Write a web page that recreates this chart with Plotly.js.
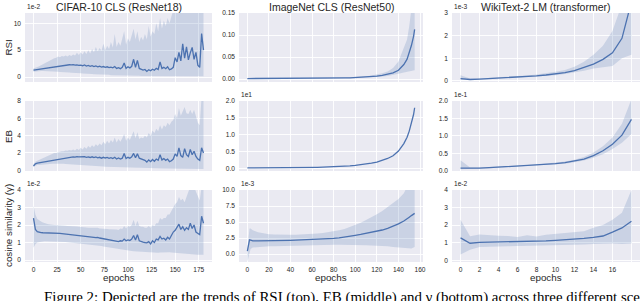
<!DOCTYPE html>
<html>
<head>
<meta charset="utf-8">
<script src="https://cdn.plot.ly/plotly-3.0.1.min.js"></script>
<style>html,body{margin:0;padding:0;background:#fff;}#chart{width:640px;height:301px;}</style>
</head>
<body>
<div id="chart"></div>
<script>
// ---------------- DATA ----------------
const colTitles = ['CIFAR-10 CLS (ResNet18)', 'ImageNet CLS (ResNet50)', 'WikiText-2 LM (transformer)'];
const rowTitles = ['RSI', 'EB', 'cosine similarity (\u03b3)'];
const xTitle = 'epochs';
const caption = 'Figure 2: Depicted are the trends of RSI (top), EB (middle) and \u03b3 (bottom) across three different scenarios.';
// scale (offset) labels, [row][col]
const scaleLabels = [['1e-2', '', '1e-3'], ['', '1e1', '1e-1'], ['1e-2', '1e-3', '1e-2']];

// CIFAR-10 (every 2nd epoch)
const epochsCifar = [0,2,4,6,8,10,12,14,16,18,20,22,24,26,28,30,32,34,36,38,40,42,44,46,48,50,52,54,56,58,60,62,64,66,68,70,72,74,76,78,80,82,84,86,88,90,92,94,96,98,100,102,104,106,108,110,112,114,116,118,120,122,124,126,128,130,132,134,136,138,140,142,144,146,148,150,152,154,156,158,160,162,164,166,168,170,172,174,176,178,180];
const rsiCifarMean = [1.30,1.35,1.40,1.45,1.50,1.55,1.62,1.68,1.75,1.82,1.88,1.95,2.00,2.05,2.10,2.15,2.20,2.22,2.25,2.28,2.25,2.30,2.20,2.25,2.15,2.20,2.10,2.25,2.05,2.15,2.00,2.10,1.95,2.05,1.90,2.00,1.85,1.95,1.80,1.90,1.75,1.85,1.70,1.95,1.60,1.75,1.55,1.80,2.60,1.60,1.90,1.70,2.00,3.30,1.80,3.10,1.60,1.50,1.30,1.40,1.05,1.35,1.15,1.45,1.25,1.60,1.40,2.80,1.60,1.80,1.55,1.90,1.35,1.50,1.80,3.60,2.80,4.60,3.00,6.20,3.50,5.60,3.20,4.50,5.50,3.30,4.60,2.20,1.80,8.10,5.00];
const rsiCifarHi = [1.6,1.7,1.8,2.0,2.2,2.4,2.6,2.8,3.0,3.2,3.4,3.5,3.6,3.8,3.7,3.9,3.8,4.0,3.8,4.1,3.9,4.2,4.0,4.5,4.1,4.6,4.2,4.8,4.3,5.0,4.4,5.2,4.6,5.6,4.8,5.4,4.9,6.2,5.0,5.8,5.2,6.5,5.5,8.0,5.6,6.5,5.8,7.0,8.5,6.0,7.2,6.5,8.0,9.0,7.0,8.5,6.5,7.5,6.8,8.0,7.0,9.5,7.5,8.5,8.0,10.0,8.5,11.0,9.0,10.5,9.5,11.0,10.0,11.5,12.5,13,13,13,13,13,13,13,13,13,13,13,13,13,13,13,13];
const rsiCifarLo = [1.0,1.05,1.1,1.1,1.1,1.1,1.1,1.1,1.1,1.1,1.05,1.05,1.0,1.0,0.95,0.95,0.9,0.9,0.85,0.85,0.8,0.8,0.75,0.75,0.7,0.7,0.65,0.65,0.6,0.6,0.55,0.55,0.5,0.5,0.5,0.45,0.45,0.45,0.4,0.4,0.4,0.35,0.35,0.35,0.3,0.3,0.3,0.3,0.3,0.3,0.3,0.25,0.25,0.25,0.25,0.25,0.25,0.2,0.2,0.2,0.2,0.2,0.2,0.2,0.2,0.2,0.2,0.2,0.2,0.2,0.2,0.2,0.2,0.2,0.2,0.15,0.15,0.15,0.15,0.15,0.15,0.15,0.15,0.15,0.15,0.15,0.15,0.15,0.15,0.15,0.15];
const ebCifarMean = [0.50,0.75,0.82,0.86,0.90,0.94,0.98,1.02,1.06,1.10,1.14,1.18,1.22,1.26,1.30,1.34,1.37,1.40,1.43,1.46,1.50,1.55,1.52,1.58,1.54,1.56,1.50,1.58,1.50,1.55,1.48,1.56,1.46,1.54,1.44,1.50,1.40,1.50,1.42,1.48,1.38,1.45,1.35,1.50,1.30,1.42,1.30,1.40,1.95,1.35,1.50,1.40,1.55,1.95,1.45,1.90,1.40,1.30,1.20,1.15,0.95,1.20,1.00,1.25,1.05,1.30,1.15,1.80,1.20,1.35,1.15,1.30,1.00,1.10,1.30,1.90,1.60,2.60,1.70,1.50,2.50,1.80,1.60,2.40,1.80,2.20,1.60,1.30,1.15,2.60,2.00];
const ebCifarHi = [0.7,1.0,1.1,1.2,1.3,1.4,1.5,1.6,1.7,1.8,1.9,2.0,2.0,2.1,2.15,2.2,2.2,2.3,2.25,2.35,2.3,2.4,2.3,2.5,2.35,2.6,2.4,2.7,2.5,2.8,2.6,2.9,2.7,3.0,2.8,3.1,2.9,3.3,3.0,3.4,3.1,3.5,3.2,3.8,3.2,3.6,3.3,3.7,4.2,3.4,3.8,3.5,4.0,4.5,3.7,4.4,3.6,3.8,3.7,4.0,3.8,4.3,4.0,4.6,4.3,4.8,4.5,5.2,4.7,5.2,5.0,5.5,5.2,5.6,5.8,6.5,6.0,7.2,6.3,6.8,7.3,6.6,6.5,7.0,6.5,7.0,6.2,5.5,5.2,8.5,8.5];
const ebCifarLo = [0.4,0.55,0.6,0.62,0.65,0.68,0.7,0.72,0.74,0.75,0.76,0.77,0.78,0.78,0.77,0.76,0.75,0.74,0.72,0.7,0.68,0.66,0.64,0.62,0.6,0.58,0.56,0.55,0.54,0.52,0.5,0.49,0.48,0.47,0.46,0.45,0.44,0.43,0.42,0.41,0.4,0.39,0.38,0.37,0.36,0.35,0.34,0.33,0.32,0.31,0.3,0.3,0.29,0.29,0.28,0.28,0.27,0.27,0.26,0.26,0.25,0.25,0.24,0.24,0.23,0.23,0.22,0.22,0.21,0.21,0.2,0.2,0.2,0.19,0.19,0.18,0.18,0.18,0.17,0.17,0.17,0.16,0.16,0.16,0.15,0.15,0.15,0.15,0.15,0.15,0.15];
const cosCifarMean = [2.40,1.75,1.62,1.58,1.57,1.56,1.56,1.55,1.55,1.54,1.54,1.53,1.53,1.52,1.52,1.51,1.50,1.49,1.48,1.47,1.46,1.45,1.44,1.43,1.42,1.40,1.38,1.37,1.35,1.34,1.32,1.31,1.30,1.28,1.30,1.26,1.24,1.25,1.22,1.20,1.18,1.16,1.14,1.12,1.08,1.05,1.10,1.08,1.20,1.10,1.15,1.12,1.20,1.40,1.15,1.45,1.10,1.05,1.02,1.00,0.98,1.05,0.92,1.10,1.00,1.20,1.15,1.35,1.20,1.25,1.15,1.30,1.20,1.40,1.60,1.70,1.85,2.05,1.75,1.90,1.70,1.85,1.75,2.10,1.80,2.00,1.60,1.50,1.45,2.50,2.10];
const cosCifarHi = [3.1,2.6,2.35,2.25,2.2,2.15,2.1,2.08,2.05,2.05,2.02,2.0,2.0,2.0,1.98,1.98,1.97,1.96,1.95,1.95,1.94,1.93,1.92,1.92,1.9,1.9,1.88,1.88,1.86,1.85,1.85,1.84,1.83,1.82,1.85,1.8,1.8,1.82,1.78,1.78,1.76,1.76,1.75,1.78,1.75,1.72,1.8,1.78,1.95,1.8,1.95,1.9,2.0,2.3,1.95,2.25,1.95,1.9,1.9,1.85,1.85,1.95,1.85,2.0,1.95,2.1,2.1,2.4,2.3,2.4,2.4,2.6,2.6,2.8,3.0,3.2,3.3,3.6,3.4,3.5,3.3,3.6,3.8,4.2,4.2,4.2,3.9,3.6,3.4,4.2,4.2];
const cosCifarLo = [0.7,0.9,1.0,1.03,1.05,1.06,1.07,1.07,1.07,1.07,1.07,1.07,1.06,1.06,1.05,1.05,1.04,1.03,1.02,1.01,1.0,0.99,0.98,0.97,0.96,0.95,0.93,0.92,0.9,0.89,0.88,0.87,0.86,0.85,0.84,0.82,0.8,0.78,0.76,0.74,0.72,0.7,0.68,0.66,0.64,0.62,0.6,0.58,0.56,0.55,0.54,0.53,0.52,0.51,0.5,0.49,0.48,0.47,0.46,0.45,0.44,0.43,0.42,0.42,0.41,0.41,0.42,0.43,0.44,0.45,0.45,0.45,0.44,0.43,0.42,0.4,0.38,0.36,0.35,0.34,0.33,0.32,0.31,0.3,0.3,0.3,0.3,0.3,0.3,0.3,0.3];

// ImageNet
const epochsImagenet = [0,1,2,3,5,10,15,20,25,30,35,40,45,50,55,60,65,70,75,80,85,90,95,100,105,110,115,120,125,130,135,140,145,148,150,152,154,155];
const rsiImagenetMean = [0.0010,0.0010,0.0010,0.0010,0.0010,0.0010,0.0010,0.0010,0.0011,0.0011,0.0011,0.0012,0.0012,0.0013,0.0013,0.0014,0.0015,0.0016,0.0018,0.0020,0.0022,0.0025,0.0028,0.0032,0.0037,0.0044,0.0053,0.0065,0.0082,0.0105,0.014,0.020,0.033,0.045,0.060,0.076,0.097,0.113];
const rsiImagenetHi = [0.0015,0.0015,0.0014,0.0014,0.0014,0.0014,0.0014,0.0014,0.0015,0.0015,0.0015,0.0016,0.0016,0.0017,0.0017,0.0018,0.0020,0.0021,0.0024,0.0027,0.0030,0.0034,0.0039,0.0045,0.0053,0.0065,0.0080,0.0100,0.0130,0.0170,0.0250,0.040,0.070,0.090,0.120,0.160,0.160,0.160];
const rsiImagenetLo = [0.0006,0.0006,0.0007,0.0007,0.0007,0.0007,0.0007,0.0007,0.0008,0.0008,0.0008,0.0009,0.0009,0.0010,0.0010,0.0011,0.0011,0.0012,0.0013,0.0015,0.0016,0.0018,0.0020,0.0023,0.0026,0.0030,0.0036,0.0044,0.0055,0.0070,0.0090,0.0120,0.0150,0.0160,0.0170,0.0180,0.0190,0.0200];
const ebImagenetMean = [0.020,0.020,0.020,0.020,0.020,0.021,0.022,0.023,0.024,0.025,0.026,0.028,0.030,0.032,0.034,0.037,0.040,0.044,0.049,0.055,0.062,0.071,0.082,0.095,0.112,0.133,0.160,0.195,0.240,0.300,0.380,0.520,0.740,0.930,1.110,1.330,1.600,1.800];
const cosImagenetMean = [0.45,1.50,2.20,2.15,2.05,2.05,2.05,2.07,2.08,2.10,2.12,2.14,2.17,2.20,2.22,2.26,2.30,2.34,2.38,2.44,2.52,2.62,2.76,2.92,3.05,3.20,3.35,3.50,3.75,4.00,4.30,4.70,5.15,5.45,5.75,6.00,6.25,6.35];
const cosImagenetHi = [0.80,3.00,4.00,4.00,3.70,3.40,3.20,3.10,3.05,3.00,3.00,3.00,3.02,3.05,3.10,3.15,3.22,3.30,3.40,3.50,3.70,3.90,4.20,4.60,4.90,5.30,5.70,6.20,6.70,7.30,7.90,8.60,9.50,10.5,10.5,10.5,10.5,10.5];
const cosImagenetLo = [-1.20,-0.50,0.50,0.80,1.00,1.10,1.15,1.20,1.22,1.25,1.27,1.30,1.32,1.35,1.37,1.40,1.42,1.44,1.45,1.45,1.45,1.45,1.43,1.40,1.38,1.35,1.32,1.30,1.25,1.20,1.10,1.00,0.90,0.85,0.80,0.85,1.00,1.10];

// WikiText-2
const epochsWiki = [0,1,2,3,4,5,6,7,8,9,10,11,12,13,14,15,16,17,18];
const rsiWikiMean = [0.10,0.06,0.08,0.10,0.12,0.14,0.16,0.19,0.22,0.26,0.30,0.36,0.45,0.58,0.74,0.95,1.24,1.88,3.50];
const rsiWikiHi = [0.25,0.10,0.11,0.13,0.15,0.17,0.20,0.24,0.28,0.33,0.40,0.48,0.62,0.85,1.15,1.55,2.20,3.40,5.00];
const rsiWikiLo = [0.05,0.04,0.06,0.08,0.10,0.12,0.14,0.16,0.19,0.22,0.25,0.30,0.36,0.45,0.55,0.60,0.66,1.00,1.15];
const ebWikiMean = [0.07,0.06,0.07,0.085,0.10,0.115,0.13,0.145,0.16,0.18,0.20,0.23,0.27,0.33,0.43,0.57,0.76,1.02,1.47];
const ebWikiHi = [0.30,0.09,0.09,0.10,0.115,0.13,0.145,0.16,0.18,0.20,0.225,0.26,0.31,0.39,0.52,0.70,0.95,1.35,2.05];
const ebWikiLo = [0.04,0.045,0.055,0.07,0.085,0.10,0.115,0.13,0.145,0.16,0.18,0.20,0.24,0.29,0.37,0.47,0.62,0.80,1.05];
const cosWikiMean = [1.27,0.97,1.02,1.03,1.03,1.03,1.04,1.06,1.08,1.10,1.13,1.16,1.19,1.24,1.30,1.38,1.60,1.84,2.22];
const cosWikiHi = [2.30,1.37,1.46,1.45,1.40,1.38,1.33,1.42,1.35,1.45,1.50,1.52,1.56,1.65,1.85,2.00,2.30,2.70,4.00];
const cosWikiLo = [0.32,0.60,0.75,0.78,0.80,0.80,0.81,0.82,0.82,0.82,0.83,0.84,0.85,0.90,0.92,0.94,0.95,0.93,0.95];

// tick values
const xTicksCifar = [0,25,50,75,100,125,150,175];
const xTicksImagenet = [0,20,40,60,80,100,120,140,160];
const xTicksWiki = [0,2,4,6,8,10,12,14,16,18];
const xTickTextWiki = ['0','2','4','6','8','10','12','14','16',''];

// ---------------- LAYOUT / STYLE ----------------
const W = 640, H = 301;
const LINE = '#4C72B0', BAND = 'rgba(76,114,176,0.2)', BG = '#EAEAF2', TXT = '#262626';
const FONT = 'Liberation Sans, Arial, sans-serif';
const colPx = [[25, 212], [239, 423], [452, 640]];
const rowPx = [[13, 82], [101, 171], [190, 262]];
const xRanges = [[-9, 189], [-7.75, 162.75], [-0.9, 18.9]];
const xTickVals = [xTicksCifar, xTicksImagenet, xTicksWiki];
const xTickTexts = [null, null, xTickTextWiki];

const panels = [
  {x: epochsCifar, m: rsiCifarMean, lo: rsiCifarLo, hi: rsiCifarHi, yr: [-0.93, 11.92], yt: [0,5,10], fmt: ''},
  {x: epochsImagenet, m: rsiImagenetMean, lo: rsiImagenetLo, hi: rsiImagenetHi, yr: [-0.0068, 0.15], yt: [0,0.05,0.1,0.15], fmt: '.2f'},
  {x: epochsWiki, m: rsiWikiMean, lo: rsiWikiLo, hi: rsiWikiHi, yr: [-0.05, 3.0], yt: [0,1,2,3], fmt: ''},
  {x: epochsCifar, m: ebCifarMean, lo: ebCifarLo, hi: ebCifarHi, yr: [-0.08, 8.0], yt: [0,2,4,6,8], fmt: ''},
  {x: epochsImagenet, m: ebImagenetMean, lo: null, hi: null, yr: [-0.07, 2.0], yt: [0,0.5,1,1.5,2], fmt: '.1f'},
  {x: epochsWiki, m: ebWikiMean, lo: ebWikiLo, hi: ebWikiHi, yr: [-0.01, 2.0], yt: [0,0.5,1,1.5,2], fmt: '.1f'},
  {x: epochsCifar, m: cosCifarMean, lo: cosCifarLo, hi: cosCifarHi, yr: [-0.11, 4.0], yt: [0,1,2,3,4], fmt: ''},
  {x: epochsImagenet, m: cosImagenetMean, lo: cosImagenetLo, hi: cosImagenetHi, yr: [-1.25, 10.0], yt: [0,2.5,5,7.5,10], fmt: '.1f'},
  {x: epochsWiki, m: cosWikiMean, lo: cosWikiLo, hi: cosWikiHi, yr: [-0.1, 4.0], yt: [0,1,2,3,4], fmt: ''}
];

const data = [];
const layout = {
  width: W, height: H,
  margin: {l: 0, r: 0, t: 0, b: 0},
  paper_bgcolor: '#ffffff', plot_bgcolor: BG,
  showlegend: false,
  font: {family: FONT, color: TXT},
  annotations: []
};

panels.forEach((p, i) => {
  const r = Math.floor(i / 3), c = i % 3, n = i + 1;
  const xr = 'x' + (n === 1 ? '' : n), yr = 'y' + (n === 1 ? '' : n);
  const xk = 'xaxis' + (n === 1 ? '' : n), yk = 'yaxis' + (n === 1 ? '' : n);
  if (p.lo && p.hi) {
    data.push({x: p.x, y: p.lo, xaxis: xr, yaxis: yr, mode: 'lines', line: {width: 0, color: BAND}, hoverinfo: 'skip'});
    data.push({x: p.x, y: p.hi, xaxis: xr, yaxis: yr, mode: 'lines', line: {width: 0, color: BAND}, fill: 'tonexty', fillcolor: BAND, hoverinfo: 'skip'});
  }
  data.push({x: p.x, y: p.m, xaxis: xr, yaxis: yr, mode: 'lines', line: {width: 1.3, color: LINE}});

  const xa = {
    domain: [colPx[c][0] / W, colPx[c][1] / W], range: xRanges[c], anchor: yr,
    tickmode: 'array', tickvals: xTickVals[c], showticklabels: r === 2,
    showgrid: true, gridcolor: '#ffffff', gridwidth: 0.9, zeroline: false, showline: false, ticks: '',
    tickfont: {size: 6.6, color: TXT, family: FONT}, ticklabelstandoff: 2
  };
  if (xTickTexts[c]) xa.ticktext = xTickTexts[c];
  const ya = {
    domain: [1 - rowPx[r][1] / H, 1 - rowPx[r][0] / H], range: p.yr, anchor: xr,
    tickmode: 'array', tickvals: p.yt, tickformat: p.fmt,
    showgrid: true, gridcolor: '#ffffff', gridwidth: 0.9, zeroline: false, showline: false, ticks: '',
    tickfont: {size: 6.6, color: TXT, family: FONT}, ticklabelstandoff: 3
  };
  layout[xk] = xa; layout[yk] = ya;

  if (scaleLabels[r][c]) {
    layout.annotations.push({text: scaleLabels[r][c], xref: 'paper', yref: 'paper',
      x: colPx[c][0] / W, y: 1 - (rowPx[r][0] - 1) / H, xanchor: 'left', yanchor: 'bottom',
      showarrow: false, font: {size: 6.6, color: TXT}});
  }
});

// column titles & x titles
colTitles.forEach((t, c) => {
  const cx = (colPx[c][0] + colPx[c][1]) / 2 / W;
  layout.annotations.push({text: t, xref: 'paper', yref: 'paper', x: cx, y: 1 - 7 / H,
    xanchor: 'center', yanchor: 'middle', showarrow: false, font: {size: 10.5, color: TXT}});
  layout.annotations.push({text: xTitle, xref: 'paper', yref: 'paper', x: cx, y: 1 - 277 / H,
    xanchor: 'center', yanchor: 'middle', showarrow: false, font: {size: 9.8, color: TXT}});
});
// row titles
rowTitles.forEach((t, r) => {
  const cy = 1 - (rowPx[r][0] + rowPx[r][1]) / 2 / H;
  layout.annotations.push({text: t, xref: 'paper', yref: 'paper', x: 8 / W, y: cy,
    xanchor: 'center', yanchor: 'middle', textangle: -90, showarrow: false, font: {size: 9.8, color: TXT}});
});
// caption (runs past the right and bottom edges, as in the reference)
layout.annotations.push({text: caption, xref: 'paper', yref: 'paper', x: 42 / W, y: 1 - 286.5 / H,
  xanchor: 'left', yanchor: 'top', showarrow: false, font: {size: 14.9, color: '#000000', family: 'Liberation Serif, Times New Roman, serif'}});

Plotly.newPlot('chart', data, layout, {staticPlot: true, displayModeBar: false});
</script>
</body>
</html>
